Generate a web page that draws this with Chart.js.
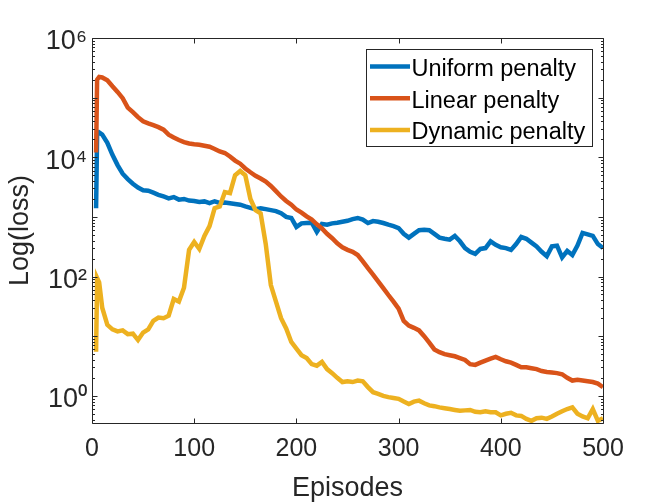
<!DOCTYPE html>
<html>
<head>
<meta charset="utf-8">
<script src="https://cdn.jsdelivr.net/npm/chart.js@4.4.1/dist/chart.umd.min.js"></script>
<style>
  html, body { margin: 0; padding: 0; background: #fff; overflow: hidden; }
  #wrap { width: 668px; height: 504px; }
</style>
</head>
<body>
<div id="wrap"><canvas id="lossChart"></canvas></div>
<script>
// episode numbers the curves were read at
const episodes = [4, 5, 7,
  10, 15, 20, 25, 30, 35, 40, 45, 50, 55,
  60, 65, 70, 75, 80, 85, 90, 95, 100, 105,
  110, 115, 120, 125, 130, 135, 140, 145, 150, 155,
  160, 165, 170, 175, 180, 185, 190, 195, 200, 205,
  210, 215, 220, 225, 230, 235, 240, 245, 250, 255,
  260, 265, 270, 275, 280, 285, 290, 295, 300, 305,
  310, 315, 320, 325, 330, 335, 340, 345, 350, 355,
  360, 365, 370, 375, 380, 385, 390, 395, 400, 405,
  410, 415, 420, 425, 430, 435, 440, 445, 450, 455,
  460, 465, 470, 475, 480, 485, 490, 495, 500];

const uniformLoss = [1400, 24000, 26000,
  24000, 17500, 11000, 7400, 5300, 4300, 3600, 3100, 2800, 2750,
  2550, 2350, 2200, 2050, 2150, 1950, 2000, 1880, 1850, 1780,
  1820, 1700, 1830, 1720, 1750, 1700, 1650, 1600, 1500, 1420,
  1350, 1400, 1350, 1300, 1250, 1150, 1000, 960, 680, 780,
  790, 800, 560, 760, 740, 780, 800, 830, 860, 920,
  960, 900, 790, 850, 830, 790, 740, 700, 650, 520,
  450, 520, 600, 610, 600, 520, 450, 430, 415, 480,
  390, 300, 260, 240, 290, 300, 390, 340, 310, 300,
  280, 350, 460, 430, 370, 320, 260, 220, 320, 330,
  210, 270, 230, 330, 540, 510, 480, 350, 300];

const linearLoss = [12000, 200000, 222000,
  218000, 195000, 155000, 125000, 98000, 68000, 57000, 47000, 40000, 37000,
  34500, 32000, 29000, 24000, 21500, 19500, 18000, 17000, 16500, 16200,
  15600, 15000, 13800, 12500, 11800, 10300, 8800, 7800, 6500, 5600,
  4900, 4400, 3900, 3300, 2700, 2200, 1850, 1600, 1330, 1180,
  1020, 900, 750, 640, 520, 440, 360, 310, 280, 260,
  230, 180, 138, 108, 83, 64, 49, 38, 29, 18,
  15, 13.8, 12.5, 10, 7.8, 6, 5.4, 5.0, 4.8, 4.6,
  4.3, 4.0, 3.4, 3.3, 3.6, 3.9, 4.2, 4.5, 4.1, 3.8,
  3.6, 3.3, 3.0, 3.0, 2.9, 2.8, 2.6, 2.5, 2.45, 2.4,
  2.3, 2.0, 1.8, 1.85, 1.8, 1.75, 1.7, 1.6, 1.4];

const dynamicLoss = [5.5, 95, 80,
  30, 15.5, 13, 12, 12.5, 10.8, 11, 8.6, 11.5, 13,
  18, 20.5, 20, 22, 42, 38, 65, 280, 380, 290,
  480, 700, 1400, 1500, 2600, 2500, 5000, 5900, 5000, 2000,
  1300, 1150, 350, 72, 38, 20, 13.5, 8, 6.2, 4.8,
  4.3, 3.4, 3.2, 3.7, 2.8, 2.4, 2.0, 1.7, 1.75, 1.7,
  1.8, 1.75, 1.4, 1.15, 1.08, 1.0, 0.95, 0.92, 0.89, 0.8,
  0.73, 0.8, 0.83, 0.75, 0.69, 0.67, 0.64, 0.62, 0.6, 0.58,
  0.56, 0.57, 0.58, 0.54, 0.53, 0.55, 0.53, 0.53, 0.47, 0.5,
  0.52, 0.47, 0.46, 0.41, 0.38, 0.42, 0.43, 0.41, 0.45, 0.5,
  0.55, 0.6, 0.64, 0.5, 0.45, 0.42, 0.6, 0.38, 0.42];

const seriesNames = ['Uniform penalty', 'Linear penalty', 'Dynamic penalty'];
const seriesColors = ['#0072BD', '#D95319', '#EDB120'];

const xTicks = [0, 100, 200, 300, 400, 500];
const yTicks = [1, 100, 10000, 1000000];
const yTickLabels = ['10⁰', '10²', '10⁴', '10⁶'];

const FONT = "'Liberation Sans', Arial, Helvetica, sans-serif";
const AXIS_COLOR = '#262626';

const toPoints = (values) => values.map((v, i) => ({ x: episodes[i], y: v }));

// matlab style box with inward ticks on all four sides
const axesBox = {
  id: 'axesBox',
  afterDatasetsDraw(chart) {
    const { ctx, chartArea: a, scales: { x, y } } = chart;
    const L = Math.round(a.left) + 0.5, R = Math.round(a.right) + 0.5;
    const T = Math.round(a.top) + 0.5, B = Math.round(a.bottom) + 0.5;
    ctx.save();
    ctx.strokeStyle = AXIS_COLOR;
    ctx.lineWidth = 1;
    ctx.beginPath();
    ctx.rect(L, T, R - L, B - T);
    xTicks.forEach(v => {
      const px = Math.round(x.getPixelForValue(v)) + 0.5;
      ctx.moveTo(px, B); ctx.lineTo(px, B - 5);
      ctx.moveTo(px, T); ctx.lineTo(px, T + 5);
    });
    for (let e = -1; e <= 6; e++) {
      for (let m = 1; m <= 9; m++) {
        const v = m * Math.pow(10, e);
        if (v < y.min || v > y.max) continue;
        const py = Math.round(y.getPixelForValue(v)) + 0.5;
        const len = m === 1 ? 5 : 2.5;
        ctx.moveTo(L, py); ctx.lineTo(L + len, py);
        ctx.moveTo(R, py); ctx.lineTo(R - len, py);
      }
    }
    ctx.stroke();
    ctx.restore();
  }
};

// legend box in the upper right corner of the axes
const boxLegend = {
  id: 'boxLegend',
  afterDraw(chart) {
    const { ctx, chartArea: a } = chart;
    const w = 226, h = 97;
    const left = Math.round(a.right - 11 - w) + 0.5;
    const top = Math.round(a.top + 11) + 0.5;
    ctx.save();
    ctx.fillStyle = '#fff';
    ctx.fillRect(left, top, w, h);
    ctx.strokeStyle = AXIS_COLOR;
    ctx.lineWidth = 1;
    ctx.strokeRect(left, top, w, h);
    ctx.font = '23.5px ' + FONT;
    ctx.textBaseline = 'alphabetic';
    chart.data.datasets.forEach((ds, i) => {
      const rowY = top + 17 + i * 31.7;
      ctx.strokeStyle = ds.borderColor;
      ctx.lineWidth = 4.5;
      ctx.beginPath();
      ctx.moveTo(left + 3.5, rowY);
      ctx.lineTo(left + 43.5, rowY);
      ctx.stroke();
      ctx.fillStyle = '#000';
      ctx.fillText(ds.label, left + 45, rowY + 9.5);
    });
    ctx.restore();
  }
};

const makeSet = (i, values, order) => ({
  label: seriesNames[i],
  data: toPoints(values),
  borderColor: seriesColors[i],
  backgroundColor: seriesColors[i],
  borderWidth: 4.5,
  pointRadius: 0,
  tension: 0,
  fill: false,
  order: order
});

new Chart(document.getElementById('lossChart'), {
  type: 'line',
  data: {
    datasets: [
      makeSet(0, uniformLoss, 3),
      makeSet(1, linearLoss, 2),
      makeSet(2, dynamicLoss, 1)
    ]
  },
  options: {
    responsive: true,
    maintainAspectRatio: false,
    animation: false,
    layout: { padding: { top: 38, right: 65, bottom: 0, left: 0 } },
    plugins: { legend: { display: false }, tooltip: { enabled: false } },
    scales: {
      x: {
        type: 'linear',
        min: 0,
        max: 500,
        grid: { display: false, drawTicks: false },
        border: { display: false },
        afterBuildTicks: s => { s.ticks = xTicks.map(v => ({ value: v })); },
        afterFit: s => { s.height = 81; },
        ticks: {
          color: AXIS_COLOR,
          font: { family: FONT, size: 25 },
          padding: 11,
          maxRotation: 0,
          autoSkip: false
        },
        title: {
          display: true,
          text: 'Episodes',
          color: AXIS_COLOR,
          font: { family: FONT, size: 27 },
          padding: { top: 0, bottom: -1 }
        }
      },
      y: {
        type: 'logarithmic',
        min: 0.35,
        max: 1000000,
        grid: { display: false, drawTicks: false },
        border: { display: false },
        afterBuildTicks: s => { s.ticks = yTicks.map(v => ({ value: v })); },
        afterFit: s => { s.width = 92; },
        ticks: {
          color: AXIS_COLOR,
          font: { family: FONT, size: 27 },
          padding: 5,
          labelOffset: 4,
          autoSkip: false,
          callback: (value) => yTickLabels[yTicks.indexOf(value)]
        },
        title: {
          display: true,
          text: 'Log(loss)',
          color: AXIS_COLOR,
          font: { family: FONT, size: 27 },
          padding: { top: 4, bottom: 0 }
        }
      }
    }
  },
  plugins: [axesBox, boxLegend]
});
</script>
</body>
</html>
